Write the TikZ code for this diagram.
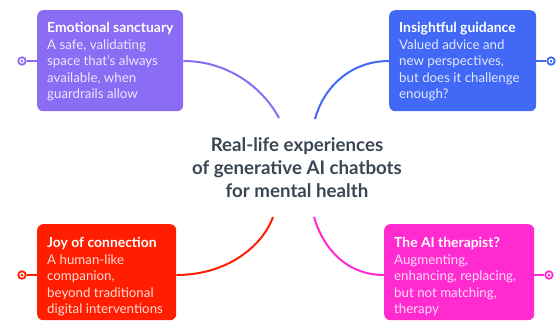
\documentclass[tikz,border=0pt]{standalone}
\usepackage{fontspec}
\setmainfont{Lato}
\definecolor{cPurple}{HTML}{8A6CF5}
\definecolor{cBlue}{HTML}{4169F5}
\definecolor{cRed}{HTML}{FF1E00}
\definecolor{cPink}{HTML}{FF2AD0}
\definecolor{cTitle}{HTML}{3B4653}
\newcommand{\cardhead}[1]{{\fontsize{13.9}{16.6}\selectfont\bfseries #1}}
\begin{document}
\begin{tikzpicture}[x=1pt,y=-1pt,
  card/.style={rectangle, rounded corners=6pt, anchor=north west, inner sep=0pt, fill=#1},
  cardtext/.style={anchor=north west, inner sep=0pt, align=left, text=white!84!#1,
    font=\fontsize{13.3}{16.6}\selectfont},
  branch/.style={draw=#1, line width=2pt},
  handle/.style={circle, draw=#1, line width=1.8pt, fill=white, minimum size=7.5pt, inner sep=0pt,
    path picture={\fill[#1] (path picture bounding box.center) circle (1.5pt);}},
  stem/.style={draw=#1, line width=1.6pt},
]
\useasboundingbox (0,0) rectangle (558,322);

% central topic
\node[align=center, text=cTitle, font=\bfseries\fontsize{18.7}{23}\selectfont] (topic) at (297,168)
  {Real-life experiences\\of generative AI chatbots\\for mental health};

% the four cards
\node[card=cPurple, minimum width=146pt, minimum height=101pt] (emo) at (37,10) {};
\node[card=cBlue,   minimum width=147pt, minimum height=101pt] (ins) at (389,10) {};
\node[card=cRed,    minimum width=139pt, minimum height=96pt]  (joy) at (37,224) {};
\node[card=cPink,   minimum width=150pt, minimum height=96pt]  (ther) at (384,224) {};

\node[cardtext=cPurple] (emoT) at (47,22) {\textcolor{white}{\cardhead{Emotional sanctuary}}\\
  A safe, validating\\space that's always\\available, when\\guardrails allow};
\node[cardtext=cBlue] (insT) at (399,22) {\textcolor{white}{\cardhead{Insightful guidance}}\\
  Valued advice and\\new perspectives,\\but does it challenge\\enough?};
\node[cardtext=cRed] (joyT) at (47,237) {\textcolor{white}{\cardhead{Joy of connection}}\\
  A human-like\\companion,\\beyond traditional\\digital interventions};
\node[cardtext=cPink] (therT) at (394,237) {\textcolor{white}{\cardhead{The AI therapist?}}\\
  Augmenting,\\enhancing, replacing,\\but not matching,\\therapy};

% branch end points near the topic
\coordinate (eEnd) at (279,118);
\coordinate (iEnd) at (315,119);
\coordinate (jEnd) at (273,217);
\coordinate (tEnd) at (314,217);

% curved branches
\draw[branch=cPurple] ([yshift=-51pt]emo.north east) .. controls +(45,0) and +(-16,-30) .. (eEnd);
\draw[branch=cBlue]   ([yshift=-51pt]ins.north west) .. controls +(-40,0) and +(8,-30) .. (iEnd);
\draw[branch=cRed]    ([yshift=-51pt]joy.north east) .. controls +(52,0) and +(-10,28) .. (jEnd);
\draw[branch=cPink]   ([yshift=-51pt]ther.north west) .. controls +(-40,0) and +(8,28) .. (tEnd);

% collapse handles
\node[handle=cPurple] (emoH) at (22,61) {};
\node[handle=cBlue]   (insH) at (551,61) {};
\node[handle=cRed]    (joyH) at (22,275) {};
\node[handle=cPink]   (therH) at (549,275) {};
\draw[stem=cPurple] (emoH) -- (emoH -| emo.west);
\draw[stem=cBlue]   (insH) -- (insH -| ins.east);
\draw[stem=cRed]    (joyH) -- (joyH -| joy.west);
\draw[stem=cPink]   (therH) -- (therH -| ther.east);
\end{tikzpicture}
\end{document}
